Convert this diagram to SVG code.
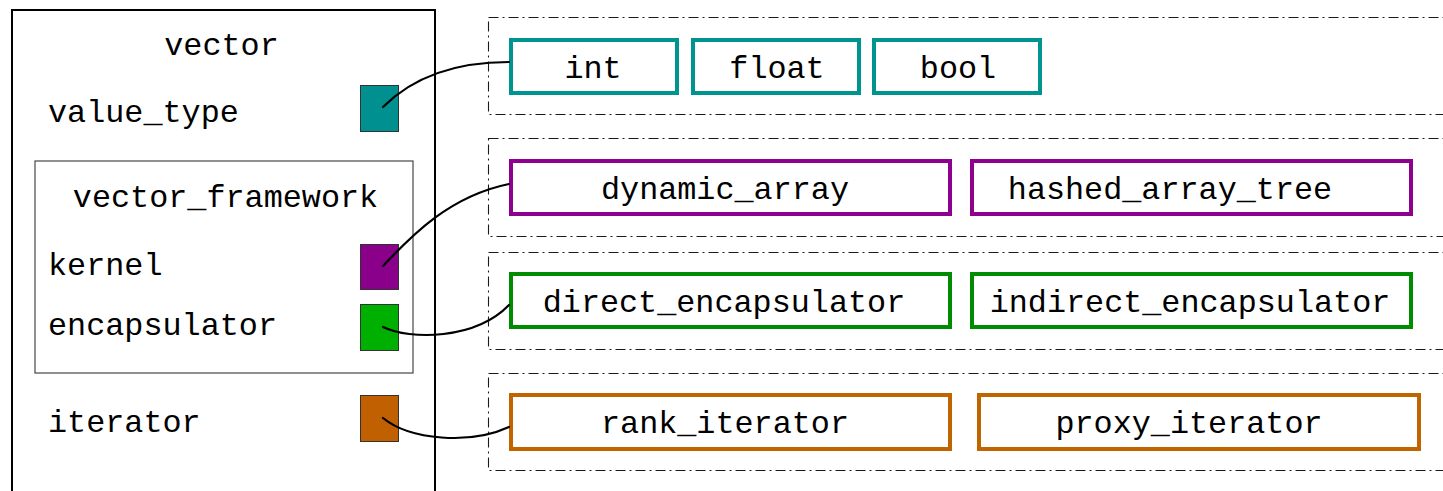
<svg xmlns="http://www.w3.org/2000/svg" width="1443" height="491" viewBox="0 0 1443 491">
  <style>
    text { font-family: "Liberation Mono", "DejaVu Sans Mono", monospace; font-size: 31.8px; fill: #000; }
    .mid { text-anchor: middle; }
    .outer { fill: none; stroke: #000; stroke-width: 2; }
    .inner { fill: none; stroke: #555; stroke-width: 1.3; }
    .port { stroke: #333; stroke-width: 1; }
    .group { fill: none; stroke: #1a1a1a; stroke-width: 1.1; stroke-dasharray: 10 4 2 4; }
    .item { fill: #fff; stroke-width: 4; }
    .teal { stroke: #009490; }
    .purple { stroke: #8E008E; }
    .green { stroke: #008C00; }
    .brown { stroke: #C06400; }
    .wire { fill: none; stroke: #000; stroke-width: 2.2; stroke-linecap: round; }
  </style>

  <!-- vector concept with its associated types -->
  <g id="vector">
    <rect class="outer" x="12" y="10" width="423" height="500"/>
    <text class="mid" x="221.5" y="55">vector</text>
    <text x="48" y="122">value_type</text>
    <rect class="port" x="360.5" y="85.5" width="38" height="46" fill="#009090"/>
    <g id="vector_framework">
      <rect class="inner" x="35" y="161" width="378" height="212"/>
      <text class="mid" x="225.5" y="207">vector_framework</text>
      <text x="48" y="275">kernel</text>
      <rect class="port" x="360.5" y="244.5" width="38" height="45" fill="#8B008B"/>
      <text x="48" y="335">encapsulator</text>
      <rect class="port" x="360.5" y="304.5" width="38" height="46" fill="#00B000"/>
    </g>
    <text x="48" y="432">iterator</text>
    <rect class="port" x="360.5" y="395.5" width="38" height="46" fill="#C06000"/>
  </g>

  <!-- value types -->
  <g id="value_types">
    <rect class="group" x="488.5" y="17.5" width="980" height="97"/>
    <g id="int">
      <rect class="item teal" x="511" y="40" width="166" height="53"/>
      <text class="mid" x="593" y="78">int</text>
    </g>
    <g id="float">
      <rect class="item teal" x="693" y="40" width="166" height="53"/>
      <text class="mid" x="777" y="78">float</text>
    </g>
    <g id="bool">
      <rect class="item teal" x="874" y="40" width="166" height="53"/>
      <text class="mid" x="958" y="78">bool</text>
    </g>
  </g>

  <!-- kernels -->
  <g id="kernels">
    <rect class="group" x="488.5" y="138.5" width="980" height="98"/>
    <g id="dynamic_array">
      <rect class="item purple" x="511" y="161" width="439" height="53"/>
      <text class="mid" x="725" y="199">dynamic_array</text>
    </g>
    <g id="hashed_array_tree">
      <rect class="item purple" x="972" y="161" width="439" height="53"/>
      <text class="mid" x="1170" y="199">hashed_array_tree</text>
    </g>
  </g>

  <!-- encapsulators -->
  <g id="encapsulators">
    <rect class="group" x="488.5" y="252.5" width="980" height="97"/>
    <g id="direct_encapsulator">
      <rect class="item green" x="511" y="274" width="439" height="53"/>
      <text class="mid" x="724" y="312">direct_encapsulator</text>
    </g>
    <g id="indirect_encapsulator">
      <rect class="item green" x="972" y="274" width="439" height="53"/>
      <text class="mid" x="1190" y="312">indirect_encapsulator</text>
    </g>
  </g>

  <!-- iterators -->
  <g id="iterators">
    <rect class="group" x="488.5" y="373.5" width="980" height="97"/>
    <g id="rank_iterator">
      <rect class="item brown" x="511" y="395" width="439" height="54"/>
      <text class="mid" x="725" y="433">rank_iterator</text>
    </g>
    <g id="proxy_iterator">
      <rect class="item brown" x="979" y="395" width="440" height="54"/>
      <text class="mid" x="1189" y="433">proxy_iterator</text>
    </g>
  </g>

  <!-- links from each slot to its first model -->
  <g id="connectors">
    <path class="wire" d="M383,107 C413,77 455,62 509,62"/>
    <path class="wire" d="M383,266 C412,235 450,196 509,184"/>
    <path class="wire" d="M383,327 C410,340 475,340 509,305"/>
    <path class="wire" d="M383,418 C410,440 470,445 509,427"/>
  </g>
</svg>
